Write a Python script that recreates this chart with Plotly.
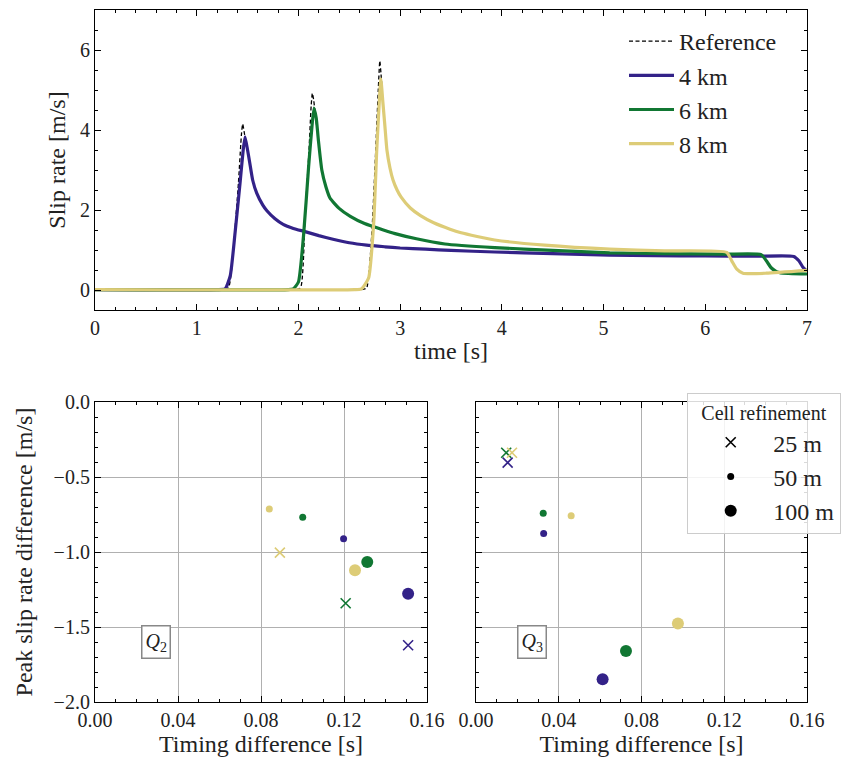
import plotly.graph_objects as go

# ---------------- data: slip rate time series ----------------
t_4km = [0.0, 1.20, 1.28, 1.33, 1.377, 1.426, 1.455, 1.475, 1.50, 1.52, 1.55, 1.59, 1.65, 1.69,
         1.77, 1.85, 1.95, 2.065, 2.20, 2.34, 2.50, 2.67, 2.85, 3.00, 3.25, 3.50, 3.93, 4.50,
         5.06, 5.50, 6.00, 6.50, 6.87, 6.92, 6.96, 7.00]
v_4km = [0.01, 0.01, 0.03, 0.36, 1.43, 2.67, 3.45, 3.83, 3.50, 3.20, 2.75, 2.42, 2.12, 1.98,
         1.78, 1.64, 1.54, 1.46, 1.36, 1.27, 1.18, 1.12, 1.08, 1.05, 1.02, 0.99, 0.95, 0.91,
         0.87, 0.86, 0.85, 0.845, 0.84, 0.73, 0.57, 0.47]

t_6km = [0.0, 1.90, 1.95, 2.00, 2.05, 2.10, 2.13, 2.153, 2.175, 2.196, 2.23, 2.27, 2.31, 2.40,
         2.51, 2.65, 2.835, 2.95, 3.16, 3.44, 3.93, 4.50, 5.06, 5.60, 6.20, 6.55, 6.60, 6.65,
         6.70, 6.74, 7.00]
v_6km = [0.01, 0.01, 0.03, 0.20, 1.35, 3.08, 4.00, 4.55, 4.30, 3.75, 3.00, 2.58, 2.30, 2.04,
         1.84, 1.66, 1.50, 1.41, 1.28, 1.15, 1.06, 0.99, 0.93, 0.91, 0.895, 0.885, 0.73, 0.55,
         0.46, 0.43, 0.40]

t_8km = [0.0, 2.55, 2.62, 2.69, 2.74, 2.77, 2.795, 2.81, 2.83, 2.85, 2.87, 2.90, 2.93, 2.97,
         3.01, 3.10, 3.20, 3.33, 3.49, 3.60, 3.93, 4.42, 5.06, 5.60, 6.21, 6.26, 6.31, 6.37,
         6.60, 7.00]
v_8km = [0.01, 0.01, 0.03, 0.30, 1.68, 3.50, 4.70, 5.28, 4.70, 4.10, 3.50, 3.05, 2.75, 2.50,
         2.32, 2.05, 1.86, 1.68, 1.52, 1.43, 1.25, 1.12, 1.02, 0.98, 0.94, 0.73, 0.52, 0.42,
         0.42, 0.49]

t_ref_4km = [0.0, 1.20, 1.31, 1.36, 1.41, 1.44, 1.452, 1.47, 1.49, 1.50, 1.52, 1.55, 1.59]
v_ref_4km = [0.01, 0.01, 0.05, 1.02, 2.67, 3.90, 4.15, 3.90, 3.62, 3.50, 3.20, 2.75, 2.42]
t_ref_6km = [0.0, 1.95, 2.02, 2.065, 2.104, 2.125, 2.137, 2.15, 2.165, 2.196, 2.23, 2.27]
v_ref_6km = [0.01, 0.01, 0.05, 1.84, 3.50, 4.60, 4.92, 4.75, 4.40, 3.75, 3.00, 2.58]
t_ref_8km = [0.0, 2.62, 2.67, 2.72, 2.76, 2.785, 2.80, 2.812, 2.83, 2.85, 2.87, 2.90]
v_ref_8km = [0.01, 0.01, 0.05, 1.35, 3.50, 5.00, 5.73, 5.40, 4.70, 4.10, 3.50, 3.05]

# ---------------- data: peak / timing differences ----------------
# order within each list: 4 km, 6 km, 8 km
q2_25m_dt = [0.1509, 0.1208, 0.0891]
q2_25m_dv = [-1.622, -1.342, -1.004]
q2_50m_dt = [0.1198, 0.1001, 0.0840]
q2_50m_dv = [-0.911, -0.769, -0.713]
q2_100m_dt = [0.1509, 0.1312, 0.1253]
q2_100m_dv = [-1.278, -1.067, -1.122]

q3_25m_dt = [0.0153, 0.0146, 0.0174]
q3_25m_dv = [-0.404, -0.338, -0.338]
q3_50m_dt = [0.0327, 0.0325, 0.0460]
q3_50m_dv = [-0.876, -0.742, -0.758]
q3_100m_dt = [0.0612, 0.0725, 0.0976]
q3_100m_dv = [-1.849, -1.660, -1.476]

distances = ["4 km", "6 km", "8 km"]
colors = ["#332288", "#117733", "#DDCC77"]
resolutions = ["25 m", "50 m", "100 m"]

FONT = "Liberation Serif"

fig = go.Figure()

# reference curves (dashed, beneath)
for i, (tt, vv) in enumerate([(t_ref_4km, v_ref_4km), (t_ref_6km, v_ref_6km), (t_ref_8km, v_ref_8km)]):
    fig.add_trace(go.Scatter(x=tt, y=vv, mode="lines", name="Reference",
                             line=dict(color="black", width=1.3, dash="4px,2.5px",
                                       shape="spline", smoothing=0.5),
                             legendgroup="ref", showlegend=(i == 0),
                             xaxis="x", yaxis="y"))

for name, col, tt, vv in zip(distances, colors, [t_4km, t_6km, t_8km], [v_4km, v_6km, v_8km]):
    fig.add_trace(go.Scatter(x=tt, y=vv, mode="lines", name=name,
                             line=dict(color=col, width=3.2, shape="spline", smoothing=0.5),
                             xaxis="x", yaxis="y"))

# scatter panels
sym = {"25 m": "x-thin", "50 m": "circle", "100 m": "circle"}
size = {"25 m": 10, "50 m": 7, "100 m": 12}
panels = [
    ("x2", "y2", [(q2_25m_dt, q2_25m_dv), (q2_50m_dt, q2_50m_dv), (q2_100m_dt, q2_100m_dv)]),
    ("x3", "y3", [(q3_25m_dt, q3_25m_dv), (q3_50m_dt, q3_50m_dv), (q3_100m_dt, q3_100m_dv)]),
]
for xa, ya, sets in panels:
    for res, (dts, dvs) in zip(resolutions, sets):
        for k in range(3):
            fig.add_trace(go.Scatter(
                x=[dts[k]], y=[dvs[k]], mode="markers", showlegend=False,
                marker=dict(symbol=sym[res], size=size[res], color=colors[k],
                            line=dict(color=colors[k], width=1.6 if res == "25 m" else 0)),
                xaxis=xa, yaxis=ya))

# legend for cell refinement
for res in resolutions:
    fig.add_trace(go.Scatter(
        x=[None], y=[None], mode="markers", name=res, legend="legend2",
        marker=dict(symbol=sym[res], size=size[res], color="black",
                    line=dict(color="black", width=1.6 if res == "25 m" else 0)),
        xaxis="x3", yaxis="y3"))

W, H = 852, 760
def fx(px):
    return px / W
def fy(py):
    return 1 - py / H

axis_common = dict(
    showline=True, linecolor="black", linewidth=1.2, mirror="allticks",
    ticks="inside", ticklen=6, tickwidth=1, tickcolor="black",
    tickfont=dict(family=FONT, size=20, color="#222"),
    zeroline=False, automargin=False,
)

fig.update_layout(
    width=W, height=H,
    margin=dict(l=0, r=0, t=0, b=0, autoexpand=False),
    paper_bgcolor="white", plot_bgcolor="white",
    font=dict(family=FONT, size=20, color="#222"),
    xaxis=dict(domain=[fx(95), fx(807)], range=[0, 7], dtick=1, showgrid=False,
               minor=dict(dtick=0.2, ticks="inside", ticklen=3, tickcolor="black", showgrid=False),
               title=dict(text="time [s]", font=dict(family=FONT, size=24), standoff=4),
               anchor="y", **axis_common),
    yaxis=dict(domain=[fy(310), fy(10)], range=[-0.5, 7], dtick=2, tick0=0, showgrid=False,
               minor=dict(dtick=0.5, ticks="inside", ticklen=3, tickcolor="black", showgrid=False),
               title=dict(text="Slip rate [m/s]", font=dict(family=FONT, size=24), standoff=7),
               anchor="x", **axis_common),
    xaxis2=dict(domain=[fx(95), fx(427)], range=[0, 0.16], dtick=0.04, tickformat=".2f",
                showgrid=True, gridcolor="#b0b0b0", gridwidth=1,
                minor=dict(dtick=0.01, ticks="inside", ticklen=3, tickcolor="black", showgrid=False),
                title=dict(text="Timing difference [s]", font=dict(family=FONT, size=24), standoff=4),
                anchor="y2", **axis_common),
    yaxis2=dict(domain=[fy(702), fy(402)], range=[-2, 0], dtick=0.5, tickformat=".1f",
                showgrid=True, gridcolor="#b0b0b0", gridwidth=1,
                minor=dict(dtick=0.1, ticks="inside", ticklen=3, tickcolor="black", showgrid=False),
                title=dict(text="Peak slip rate difference [m/s]", font=dict(family=FONT, size=24), standoff=14),
                anchor="x2", **axis_common),
    xaxis3=dict(domain=[fx(476), fx(807)], range=[0, 0.16], dtick=0.04, tickformat=".2f",
                showgrid=True, gridcolor="#b0b0b0", gridwidth=1,
                minor=dict(dtick=0.01, ticks="inside", ticklen=3, tickcolor="black", showgrid=False),
                title=dict(text="Timing difference [s]", font=dict(family=FONT, size=24), standoff=4),
                anchor="y3", **axis_common),
    yaxis3=dict(domain=[fy(702), fy(402)], range=[-2, 0], dtick=0.5, showticklabels=False,
                showgrid=True, gridcolor="#b0b0b0", gridwidth=1,
                minor=dict(dtick=0.1, ticks="inside", ticklen=3, tickcolor="black", showgrid=False),
                anchor="x3", matches="y2", **axis_common),
    legend=dict(x=fx(624), y=fy(19), xanchor="left", yanchor="top",
                bgcolor="rgba(255,255,255,0)", borderwidth=0, tracegroupgap=0,
                font=dict(family=FONT, size=24, color="#222"), itemwidth=45),
    legend2=dict(x=fx(687), y=fy(393), xanchor="left", yanchor="top",
                 bgcolor="rgba(255,255,255,0.85)", bordercolor="#cccccc", borderwidth=1.2,
                 font=dict(family=FONT, size=24, color="#222"), itemsizing="trace",
                 itemwidth=75,
                 title=dict(text="Cell refinement", side="top center",
                            font=dict(family=FONT, size=20, color="#222"))),
    annotations=[
        dict(text="<i>Q</i><sub>2</sub>", x=0.0296, y=-1.60, xref="x2", yref="y2",
             showarrow=False, font=dict(family=FONT, size=20, color="#222"),
             bordercolor="#888888", borderwidth=1.5, borderpad=3, bgcolor="white"),
        dict(text="<i>Q</i><sub>3</sub>", x=0.0273, y=-1.60, xref="x3", yref="y3",
             showarrow=False, font=dict(family=FONT, size=20, color="#222"),
             bordercolor="#888888", borderwidth=1.5, borderpad=3, bgcolor="white"),
    ],
)

fig.write_html("out.html")
